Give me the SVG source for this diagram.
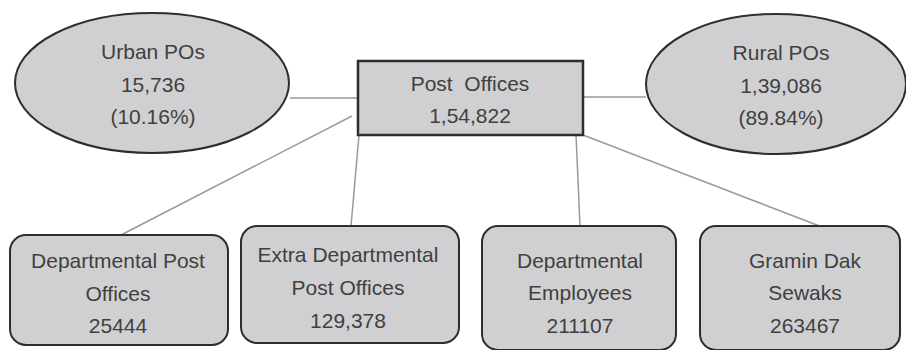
<svg xmlns="http://www.w3.org/2000/svg" width="906" height="350" viewBox="0 0 906 350">
<style>
.shape{fill:#d0d0d2;stroke:#2e2e2e;stroke-width:2}
.t{font-family:"Liberation Sans",Arial,sans-serif;font-size:21px;fill:#404040;text-anchor:middle}
.c{stroke:#9a9a9a;stroke-width:1.5;fill:none}
</style>
<rect width="906" height="350" fill="#ffffff"/>
<g id="connectors">
<line class="c" x1="290" y1="98" x2="358" y2="98"/>
<line class="c" x1="583" y1="97" x2="646" y2="97"/>
<line class="c" x1="352" y1="116" x2="121" y2="235"/>
<line class="c" x1="359" y1="135" x2="351" y2="226"/>
<line class="c" x1="576" y1="135" x2="580" y2="226"/>
<line class="c" x1="583" y1="135" x2="822" y2="227"/>
</g>
<g id="urban">
<ellipse class="shape" cx="152" cy="83" rx="137" ry="70"/>
<text class="t" x="153" y="59">Urban POs</text>
<text class="t" x="153" y="92">15,736</text>
<text class="t" x="153" y="124">(10.16%)</text>
</g>
<g id="post-offices">
<rect class="shape" x="358" y="61" width="225" height="74" style="stroke-width:2.5"/>
<text class="t" x="470" y="91" xml:space="preserve">Post  Offices</text>
<text class="t" x="470" y="123">1,54,822</text>
</g>
<g id="rural">
<ellipse class="shape" cx="776" cy="84" rx="130" ry="70"/>
<text class="t" x="781" y="60">Rural POs</text>
<text class="t" x="781" y="93">1,39,086</text>
<text class="t" x="781" y="125">(89.84%)</text>
</g>
<g id="dept-po">
<rect class="shape" x="10" y="235" width="218" height="110" rx="16"/>
<text class="t" x="118" y="268">Departmental Post</text>
<text class="t" x="118" y="301">Offices</text>
<text class="t" x="118" y="333">25444</text>
</g>
<g id="extra-dept-po">
<rect class="shape" x="241" y="226" width="218" height="117" rx="16"/>
<text class="t" x="348" y="262">Extra Departmental</text>
<text class="t" x="348" y="295">Post Offices</text>
<text class="t" x="348" y="328">129,378</text>
</g>
<g id="dept-employees">
<rect class="shape" x="482" y="226" width="194" height="124" rx="16"/>
<text class="t" x="580" y="268">Departmental</text>
<text class="t" x="580" y="300">Employees</text>
<text class="t" x="580" y="333">211107</text>
</g>
<g id="gds">
<rect class="shape" x="700" y="226" width="200" height="124" rx="16"/>
<text class="t" x="805" y="268">Gramin Dak</text>
<text class="t" x="805" y="300">Sewaks</text>
<text class="t" x="805" y="333">263467</text>
</g>
</svg>
